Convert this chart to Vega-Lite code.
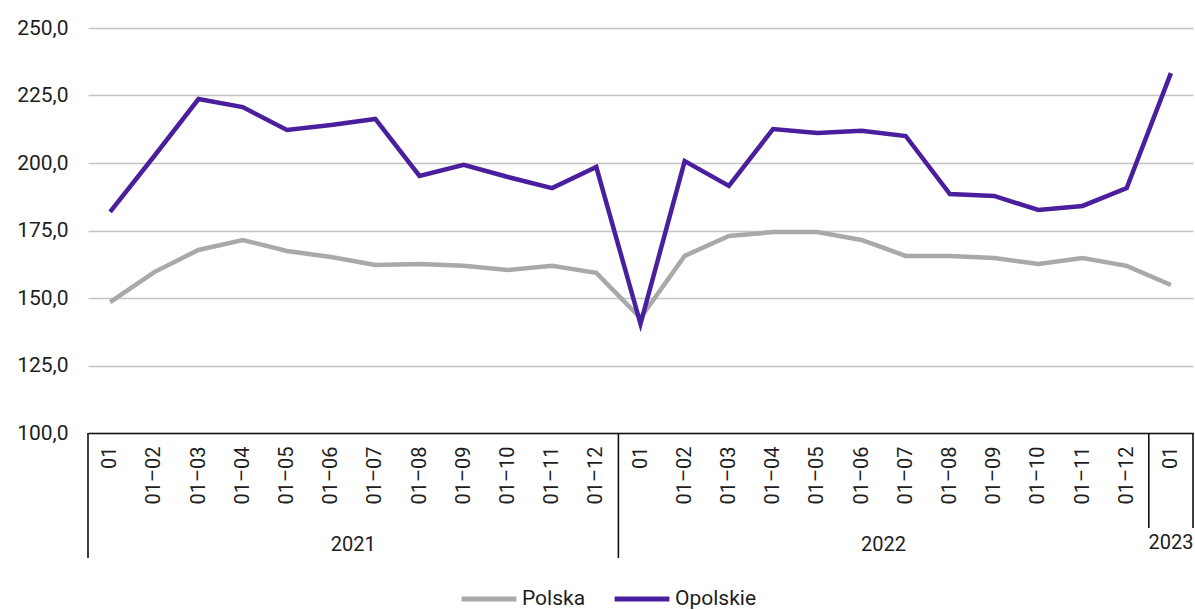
{
  "$schema": "https://vega.github.io/schema/vega-lite/v6.json",
  "width": 1105,
  "height": 405,
  "autosize": "none",
  "padding": {"left": 88, "top": 28, "right": 2, "bottom": 177},
  "background": "white",
  "config": {
    "view": {"stroke": null},
    "font": "Roboto",
    "axis": {"labelFont": "Roboto", "labelColor": "#1e1e1e"},
    "legend": {"labelFont": "Roboto"}
  },
  "datasets": {
    "dane": [
      {"okres": "2021|01", "seria": "Polska", "wartosc": 148.5},
      {"okres": "2021|01–02", "seria": "Polska", "wartosc": 159.6},
      {"okres": "2021|01–03", "seria": "Polska", "wartosc": 167.8},
      {"okres": "2021|01–04", "seria": "Polska", "wartosc": 171.5},
      {"okres": "2021|01–05", "seria": "Polska", "wartosc": 167.4},
      {"okres": "2021|01–06", "seria": "Polska", "wartosc": 165.2},
      {"okres": "2021|01–07", "seria": "Polska", "wartosc": 162.2},
      {"okres": "2021|01–08", "seria": "Polska", "wartosc": 162.6},
      {"okres": "2021|01–09", "seria": "Polska", "wartosc": 161.9},
      {"okres": "2021|01–10", "seria": "Polska", "wartosc": 160.4},
      {"okres": "2021|01–11", "seria": "Polska", "wartosc": 161.9},
      {"okres": "2021|01–12", "seria": "Polska", "wartosc": 159.3},
      {"okres": "2022|01", "seria": "Polska", "wartosc": 142.6},
      {"okres": "2022|01–02", "seria": "Polska", "wartosc": 165.6},
      {"okres": "2022|01–03", "seria": "Polska", "wartosc": 173.0},
      {"okres": "2022|01–04", "seria": "Polska", "wartosc": 174.4},
      {"okres": "2022|01–05", "seria": "Polska", "wartosc": 174.4},
      {"okres": "2022|01–06", "seria": "Polska", "wartosc": 171.5},
      {"okres": "2022|01–07", "seria": "Polska", "wartosc": 165.6},
      {"okres": "2022|01–08", "seria": "Polska", "wartosc": 165.6},
      {"okres": "2022|01–09", "seria": "Polska", "wartosc": 164.8},
      {"okres": "2022|01–10", "seria": "Polska", "wartosc": 162.6},
      {"okres": "2022|01–11", "seria": "Polska", "wartosc": 164.8},
      {"okres": "2022|01–12", "seria": "Polska", "wartosc": 161.9},
      {"okres": "2023|01", "seria": "Polska", "wartosc": 154.8},
      {"okres": "2021|01", "seria": "Opolskie", "wartosc": 181.9},
      {"okres": "2021|01–02", "seria": "Opolskie", "wartosc": 202.6},
      {"okres": "2021|01–03", "seria": "Opolskie", "wartosc": 223.7},
      {"okres": "2021|01–04", "seria": "Opolskie", "wartosc": 220.7},
      {"okres": "2021|01–05", "seria": "Opolskie", "wartosc": 212.2},
      {"okres": "2021|01–06", "seria": "Opolskie", "wartosc": 214.1},
      {"okres": "2021|01–07", "seria": "Opolskie", "wartosc": 216.3},
      {"okres": "2021|01–08", "seria": "Opolskie", "wartosc": 195.2},
      {"okres": "2021|01–09", "seria": "Opolskie", "wartosc": 199.3},
      {"okres": "2021|01–10", "seria": "Opolskie", "wartosc": 194.8},
      {"okres": "2021|01–11", "seria": "Opolskie", "wartosc": 190.7},
      {"okres": "2021|01–12", "seria": "Opolskie", "wartosc": 198.5},
      {"okres": "2022|01", "seria": "Opolskie", "wartosc": 140.4},
      {"okres": "2022|01–02", "seria": "Opolskie", "wartosc": 200.7},
      {"okres": "2022|01–03", "seria": "Opolskie", "wartosc": 191.5},
      {"okres": "2022|01–04", "seria": "Opolskie", "wartosc": 212.6},
      {"okres": "2022|01–05", "seria": "Opolskie", "wartosc": 211.1},
      {"okres": "2022|01–06", "seria": "Opolskie", "wartosc": 211.9},
      {"okres": "2022|01–07", "seria": "Opolskie", "wartosc": 210.0},
      {"okres": "2022|01–08", "seria": "Opolskie", "wartosc": 188.5},
      {"okres": "2022|01–09", "seria": "Opolskie", "wartosc": 187.8},
      {"okres": "2022|01–10", "seria": "Opolskie", "wartosc": 182.6},
      {"okres": "2022|01–11", "seria": "Opolskie", "wartosc": 184.1},
      {"okres": "2022|01–12", "seria": "Opolskie", "wartosc": 190.7},
      {"okres": "2023|01", "seria": "Opolskie", "wartosc": 233.3}
    ],
    "lata": [
      {"rok": "2021", "od": "2021|01", "do": "2021|01–12", "srodek": "2021|01–07"},
      {"rok": "2022", "od": "2022|01", "do": "2022|01–12", "srodek": "2022|01–07"},
      {"rok": "2023", "od": "2023|01", "do": "2023|01", "srodek": "2023|01"}
    ]
  },
  "layer": [
    {
      "data": {"name": "dane"},
      "mark": {"type": "line", "strokeWidth": 4.5, "strokeJoin": "miter"},
      "encoding": {
        "x": {
          "field": "okres",
          "type": "nominal",
          "bandPosition": 0.5,
          "scale": {
            "type": "band",
            "paddingInner": 0,
            "paddingOuter": 0,
            "domain": ["2021|01", "2021|01–02", "2021|01–03", "2021|01–04", "2021|01–05", "2021|01–06", "2021|01–07", "2021|01–08", "2021|01–09", "2021|01–10", "2021|01–11", "2021|01–12", "2022|01", "2022|01–02", "2022|01–03", "2022|01–04", "2022|01–05", "2022|01–06", "2022|01–07", "2022|01–08", "2022|01–09", "2022|01–10", "2022|01–11", "2022|01–12", "2023|01"]
          },
          "axis": {
            "title": null,
            "orient": "bottom",
            "labelAngle": -90,
            "labelFontSize": 20,
            "labelPadding": 13,
            "ticks": false,
            "domain": true,
            "domainColor": "#111111",
            "domainWidth": 1.6,
            "grid": false,
            "labelExpr": "split(datum.label, '|')[1]"
          }
        },
        "y": {
          "field": "wartosc",
          "type": "quantitative",
          "scale": {"domain": [100, 250], "zero": false, "nice": false},
          "axis": {
            "title": null,
            "values": [100, 125, 150, 175, 200, 225, 250],
            "labelExpr": "replace(format(datum.value, '.1f'), '.', ',')",
            "labelFontSize": 21,
            "labelPadding": 20,
            "ticks": false,
            "domain": false,
            "grid": true,
            "gridColor": "#c4c4c4",
            "gridWidth": 1.5
          }
        },
        "color": {
          "field": "seria",
          "type": "nominal",
          "scale": {"domain": ["Polska", "Opolskie"], "range": ["#a9a9a9", "#4a1f9d"]},
          "legend": {
            "title": null,
            "orient": "none",
            "direction": "horizontal",
            "legendX": 371,
            "legendY": 541,
            "symbolType": "stroke",
            "symbolStrokeWidth": 5,
            "symbolSize": 3000,
            "labelFontSize": 21,
            "labelColor": "#1e1e1e",
            "labelOffset": 3,
            "columnPadding": 18
          }
        },
        "order": {"field": "seria", "sort": "descending"}
      }
    },
    {
      "data": {"name": "lata"},
      "transform": [{"filter": "datum.rok != '2023'"}],
      "mark": {"type": "rule", "color": "#111111", "strokeWidth": 1.6},
      "encoding": {
        "x": {"field": "od", "type": "nominal", "bandPosition": 0},
        "y": {"datum": 100},
        "y2": {"datum": 53.7}
      }
    },
    {
      "data": {"name": "lata"},
      "transform": [{"filter": "datum.rok == '2023'"}],
      "mark": {"type": "rule", "color": "#111111", "strokeWidth": 1.6},
      "encoding": {
        "x": {"field": "od", "type": "nominal", "bandPosition": 0},
        "y": {"datum": 100},
        "y2": {"datum": 64.8}
      }
    },
    {
      "data": {"name": "lata"},
      "transform": [{"filter": "datum.rok == '2023'"}],
      "mark": {"type": "rule", "color": "#111111", "strokeWidth": 1.6},
      "encoding": {
        "x": {"field": "do", "type": "nominal", "bandPosition": 1},
        "y": {"datum": 100},
        "y2": {"datum": 64.8}
      }
    },
    {
      "data": {"name": "lata"},
      "transform": [{"filter": "datum.rok != '2023'"}],
      "mark": {"type": "text", "fontSize": 20, "color": "#1e1e1e", "baseline": "middle", "align": "center"},
      "encoding": {
        "x": {"field": "srodek", "type": "nominal", "bandPosition": 0},
        "y": {"datum": 58.5},
        "text": {"field": "rok"}
      }
    },
    {
      "data": {"name": "lata"},
      "transform": [{"filter": "datum.rok == '2023'"}],
      "mark": {"type": "text", "fontSize": 20, "color": "#1e1e1e", "baseline": "middle", "align": "center"},
      "encoding": {
        "x": {"field": "srodek", "type": "nominal", "bandPosition": 0.5},
        "y": {"datum": 59.3},
        "text": {"field": "rok"}
      }
    }
  ]
}
